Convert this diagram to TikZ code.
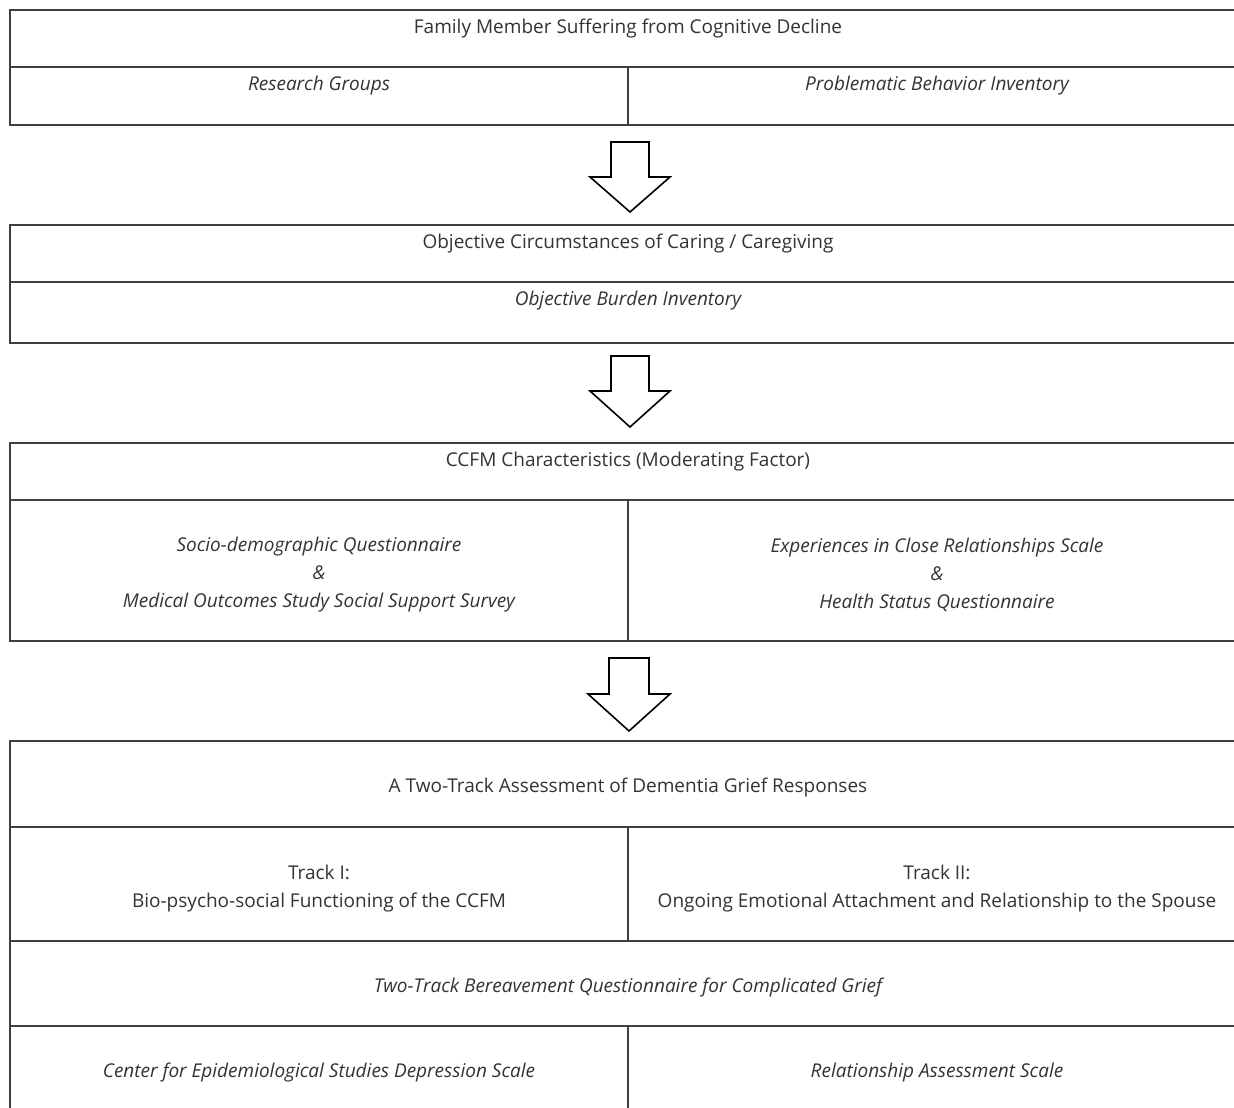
\documentclass[tikz,border=0pt]{standalone}
\usepackage{fontspec}
\setmainfont{Open Sans}
\usetikzlibrary{calc}
\begin{document}
\begin{tikzpicture}[x=1pt,y=-1pt,
  cell/.style={draw=black!75,line width=1.3pt},
  txt/.style={font=\fontsize{19}{28}\selectfont,text=black!80,align=center,inner sep=0pt},
  itx/.style={txt,font=\fontsize{19}{28}\selectfont\itshape},
  blockarrow/.style={draw=black,line width=1.6pt,fill=white,line join=miter}]
\useasboundingbox (0,0) rectangle (1234,1108);
\fill[white] (0,0) rectangle (1234,1108);
\clip (0,0) rectangle (1234,1108);
% ---------- block 1
\draw[cell] (10,10) rectangle (1246,125);
\draw[cell] (10,67) -- (1246,67);
\draw[cell] (628,67) -- (628,125);
\node[txt] (t1) at (628,29) {Family Member Suffering from Cognitive Decline};
\node[itx] (t1a) at (319,86) {Research Groups};
\node[itx] (t1b) at (937,86) {Problematic Behavior Inventory};
% ---------- arrow 1
\coordinate (a1) at (630,142);
\draw[blockarrow] ($(a1)+(-19,0)$) -- ++(38,0) -- ++(0,35) -- ++(21,0) -- ($(a1)+(0,70)$) -- ($(a1)+(-40,35)$) -- ++(21,0) -- cycle;
% ---------- block 2
\draw[cell] (10,225) rectangle (1246,343);
\draw[cell] (10,282) -- (1246,282);
\node[txt] (t2) at (628,244) {Objective Circumstances of Caring / Caregiving};
\node[itx] (t2a) at (628,301) {Objective Burden Inventory};
% ---------- arrow 2
\coordinate (a2) at (630,356);
\draw[blockarrow] ($(a2)+(-19,0)$) -- ++(38,0) -- ++(0,35) -- ++(21,0) -- ($(a2)+(0,71)$) -- ($(a2)+(-40,35)$) -- ++(21,0) -- cycle;
% ---------- block 3
\draw[cell] (10,443) rectangle (1246,641);
\draw[cell] (10,500) -- (1246,500);
\draw[cell] (628,500) -- (628,641);
\node[txt] (t3) at (628,462) {CCFM Characteristics (Moderating Factor)};
\node[itx] (t3a) at (319,575) {Socio-demographic Questionnaire\\ \&\\ Medical Outcomes Study Social Support Survey};
\node[itx] (t3b) at (937,575) {Experiences in Close Relationships Scale\\ \&\\ Health Status Questionnaire};
% ---------- arrow 3
\coordinate (a3) at (629,658);
\draw[blockarrow] ($(a3)+(-20,0)$) -- ++(40,0) -- ++(0,36) -- ++(21,0) -- ($(a3)+(0,73)$) -- ($(a3)+(-41,36)$) -- ++(21,0) -- cycle;
% ---------- block 4
\draw[cell] (10,741) rectangle (1246,1130);
\draw[cell] (10,827) -- (1246,827);
\draw[cell] (10,941) -- (1246,941);
\draw[cell] (10,1026) -- (1246,1026);
\draw[cell] (628,827) -- (628,941);
\draw[cell] (628,1026) -- (628,1130);
\node[txt] (t4) at (628,788) {A Two-Track Assessment of Dementia Grief Responses};
\node[txt] (t4a) at (319,889) {Track I:\\ Bio-psycho-social Functioning of the CCFM};
\node[txt] (t4b) at (937,889) {Track II:\\ Ongoing Emotional Attachment and Relationship to the Spouse};
\node[itx] (t4c) at (628,988) {Two-Track Bereavement Questionnaire for Complicated Grief};
\node[itx] (t4d) at (319,1073) {Center for Epidemiological Studies Depression Scale};
\node[itx] (t4e) at (937,1073) {Relationship Assessment Scale};
\end{tikzpicture}
\end{document}
